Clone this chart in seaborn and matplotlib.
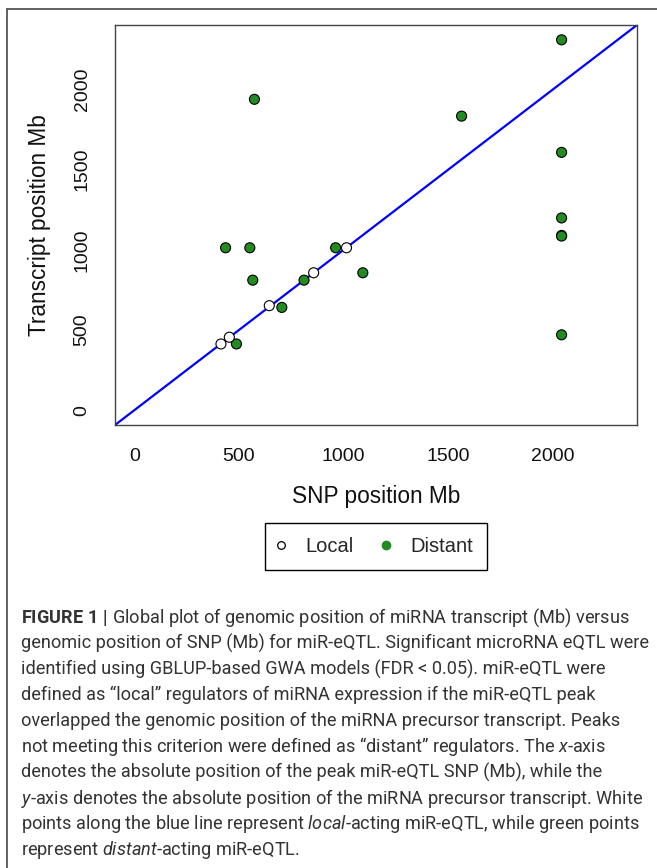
import numpy as np
import pandas as pd
import matplotlib
matplotlib.use('Agg')
import matplotlib.pyplot as plt
import seaborn as sns
from matplotlib.lines import Line2D

# data (Mb)
snp_local = [414, 454, 645, 857, 1014]
tx_local = [413, 455, 652, 857, 1013]
snp_distant = [2042, 574, 1564, 2042, 2042, 2042, 2042, 2042,
               436, 552, 566, 962, 811, 705, 1092, 488]
tx_distant = [2310, 1939, 1834, 1608, 1199, 1090, 1086, 470,
              1013, 1013, 811, 1013, 811, 641, 857, 413]
ticks = [0, 500, 1000, 1500, 2000]
lims = (-92.4, 2402.4)

caption = [
    r"$\mathbf{FIGURE\ 1\ |}$ Global plot of genomic position of miRNA transcript (Mb) versus",
    "genomic position of SNP (Mb) for miR-eQTL. Significant microRNA eQTL were",
    "identified using GBLUP-based GWA models (FDR < 0.05). miR-eQTL were",
    "defined as \u201clocal\u201d regulators of miRNA expression if the miR-eQTL peak",
    "overlapped the genomic position of the miRNA precursor transcript. Peaks",
    "not meeting this criterion were defined as \u201cdistant\u201d regulators. The $\\mathit{x}$-axis",
    "denotes the absolute position of the peak miR-eQTL SNP (Mb), while the",
    r"$\mathit{y}$-axis denotes the absolute position of the miRNA precursor transcript. White",
    r"points along the blue line represent $\mathit{local}$-acting miR-eQTL, while green points",
    r"represent $\mathit{distant}$-acting miR-eQTL.",
]

df = pd.DataFrame({
    'snp': snp_distant + snp_local,
    'tx': tx_distant + tx_local,
    'type': ['Distant'] * len(snp_distant) + ['Local'] * len(snp_local),
})

sns.set_style('white')
cap_font = 'Roboto'
plt.rcParams['font.family'] = ['Liberation Sans', 'DejaVu Sans']
plt.rcParams['mathtext.fontset'] = 'custom'
plt.rcParams['mathtext.rm'] = cap_font
plt.rcParams['mathtext.it'] = cap_font + ':italic'
plt.rcParams['mathtext.bf'] = cap_font + ':bold'

W, H = 657, 868
fig = plt.figure(figsize=(W / 100, H / 100), dpi=100)
ax = fig.add_axes([115 / W, 1 - 425 / H, (637 - 115) / W, (425 - 25) / H])

ax.axline((0, 0), slope=1, color='blue', lw=1.6, zorder=2)
sns.scatterplot(data=df, x='snp', y='tx', hue='type',
                palette={'Distant': '#228B22', 'Local': 'white'},
                edgecolor='black', linewidth=0.8, s=52, legend=False,
                ax=ax, zorder=3)

ax.set_xlim(lims)
ax.set_ylim(lims)
ax.set_xticks(ticks)
ax.set_yticks(ticks)
for sp in ax.spines.values():
    sp.set_color('#444444')
    sp.set_linewidth(1.0)
ax.tick_params(direction='out', length=7.5, width=1.0, color='#444444',
               labelsize=14, labelcolor='#111111')
ax.tick_params(axis='x', pad=9)
ax.tick_params(axis='y', pad=10)
for lab in ax.get_yticklabels():
    lab.set_rotation(90)
    lab.set_va('center')

ax.set_xlabel('SNP position Mb', fontsize=16.3, color='#111111')
ax.set_ylabel('Transcript position Mb', fontsize=16.3, color='#111111')
ax.xaxis.set_label_coords(0.5, (425 - 496) / 400)
ax.xaxis.label.set_va('center')
ax.yaxis.set_label_coords((40 - 115) / 522, 0.5)
ax.yaxis.label.set_va('center')

handles = [
    Line2D([], [], marker='o', ls='', mfc='white', mec='black', ms=5.5, mew=0.9),
    Line2D([], [], marker='o', ls='', mfc='#228B22', mec='#228B22', ms=6),
]
leg = fig.legend(handles, ['Local', 'Distant'], ncol=2, loc='upper center',
                 bbox_to_anchor=(376 / W, 1 - 523 / H), borderaxespad=0,
                 fontsize=14.5, frameon=True, fancybox=False, framealpha=1,
                 edgecolor='black', handletextpad=1.1, columnspacing=1.55,
                 borderpad=0.7, handlelength=0.2)
leg.get_frame().set_linewidth(1.0)

# outer frame (only left and top edges visible)
fig.add_artist(Line2D([7 / W, 7 / W], [0, 1 - 9 / H], transform=fig.transFigure,
                      color='#555555', lw=1.3))
fig.add_artist(Line2D([7 / W, 1], [1 - 9 / H, 1 - 9 / H], transform=fig.transFigure,
                      color='#555555', lw=1.3))

for i, line in enumerate(caption):
    fig.text(21 / W, 1 - (623 + i * 25.8) / H, line, family=cap_font,
             fontsize=13.1, color='#333333', va='baseline', ha='left')

fig.savefig('out.png', dpi=100)
